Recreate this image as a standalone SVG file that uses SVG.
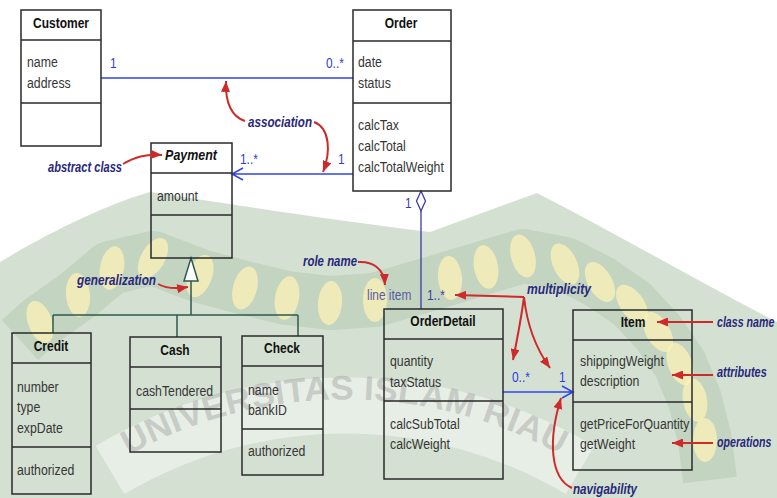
<svg xmlns="http://www.w3.org/2000/svg" width="777" height="498" viewBox="0 0 777 498">
  <style>
    text { font-family: "Liberation Sans", Arial, sans-serif; }
    .cls { font-size: 15px; font-weight: bold; fill: #111; text-anchor: middle; }
    .abs { font-style: italic; }
    .att { font-size: 15px; fill: #363636; }
    .mul { font-size: 14px; fill: #2a3ce4; }
    .mul2 { font-size: 14px; fill: #3a3aa6; }
    .role { font-size: 14px; fill: #5a5aa2; }
    .note { font-size: 14px; font-style: italic; font-weight: bold; fill: #28287a; }
    .box rect, .box path { fill: none; stroke: #2a2a2a; stroke-width: 1.5; }
    .assoc { fill: none; stroke: #2f45e8; stroke-width: 1.5; }
    .agg { fill: none; stroke: #3a3aa6; stroke-width: 1.3; }
    .gen { fill: none; stroke: #2c5a4c; stroke-width: 1.5; }
    .call { fill: none; stroke: #cf2a2a; stroke-width: 2; marker-end: url(#redhead); }
    .petal { fill: #fcf2b6; fill-opacity: 0.75; }
    .wm { font-size: 34px; font-weight: bold; fill: #959595; fill-opacity: 0.4; }
  </style>
  <defs>
    <marker id="redhead" markerUnits="userSpaceOnUse" markerWidth="11" markerHeight="9" refX="11" refY="4.5" orient="auto">
      <path d="M0,0 L11,4.5 L0,9 Z" fill="#cf2a2a"/>
    </marker>
    <path id="wmArc" d="M120,460 A448,448 0 0 1 570,460"/>
  </defs>

  <rect width="777" height="498" fill="#ffffff"/>

  <!-- university crest in the background -->
  <g id="watermark">
    <path d="M0,262 C50,232 105,205 150,192 C230,204 330,220 430,232 L537,193 C620,236 700,282 777,322 L777,498 L0,498 Z" fill="#6f9a6a" fill-opacity="0.3"/>
    <path d="M20,340 L40,322 L78,295 L110,268 L153,258 L200,276 L245,288 L287,298 L330,303 L375,300 L450,278 L523,256 L565,264 L600,282 L632,304 L658,332 L680,364 L695,400 L705,440 L710,480" fill="none" stroke="#5f8a5a" stroke-opacity="0.14" stroke-width="54" stroke-linejoin="round"/>
    <g class="petal">
      <ellipse rx="12" ry="22" transform="translate(40 322) rotate(-20)"/>
      <ellipse rx="12" ry="22" transform="translate(78 295) rotate(-5)"/>
      <ellipse rx="12" ry="22" transform="translate(112 268) rotate(10)"/>
      <ellipse rx="12" ry="22" transform="translate(153 258) rotate(30)"/>
      <ellipse rx="12" ry="22" transform="translate(200 276) rotate(20)"/>
      <ellipse rx="12" ry="22" transform="translate(245 288) rotate(15)"/>
      <ellipse rx="12" ry="22" transform="translate(287 298) rotate(10)"/>
      <ellipse rx="12" ry="22" transform="translate(330 303) rotate(5)"/>
      <ellipse rx="12" ry="22" transform="translate(375 300) rotate(0)"/>
      <ellipse rx="12" ry="22" transform="translate(450 278) rotate(-5)"/>
      <ellipse rx="12" ry="22" transform="translate(486 267) rotate(-10)"/>
      <ellipse rx="12" ry="22" transform="translate(523 256) rotate(-15)"/>
      <ellipse rx="12" ry="22" transform="translate(565 264) rotate(-25)"/>
      <ellipse rx="12" ry="22" transform="translate(600 282) rotate(-30)"/>
      <ellipse rx="12" ry="22" transform="translate(632 304) rotate(-35)"/>
      <ellipse rx="12" ry="22" transform="translate(658 332) rotate(-30)"/>
      <ellipse rx="12" ry="22" transform="translate(680 364) rotate(-20)"/>
      <ellipse rx="12" ry="22" transform="translate(695 400) rotate(-10)"/>
      <ellipse rx="12" ry="22" transform="translate(705 440) rotate(0)"/>
    </g>
    <path d="M110,470 A460,460 0 0 1 580,470" fill="none" stroke="#ffffff" stroke-opacity="0.45" stroke-width="56"/>
    <text class="wm"><textPath href="#wmArc" startOffset="10" textLength="450" lengthAdjust="spacingAndGlyphs">UNIVERSITAS ISLAM RIAU</textPath></text>
  </g>

  <!-- relationships between the classes -->
  <g id="connectors">
    <path class="assoc" d="M101,78 H353"/>
    <path class="assoc" d="M353,174 H232 M243,168 L232,174 L243,180"/>
    <path class="agg" d="M421,211 V309"/>
    <polygon points="421,191 425.5,201 421,211 416.5,201" fill="#ffffff" stroke="#3a3aa6" stroke-width="1.3"/>
    <path class="gen" d="M191,281 V315 M53,315 H298 M53,315 V333 M177,315 V337 M298,315 V336"/>
    <polygon points="191,258 198,281 184,281" fill="#ffffff" stroke="#2c5a4c" stroke-width="1.5"/>
    <path class="assoc" d="M503,392 H573 M562,386 L573,392 L562,398"/>

    <text class="mul" transform="translate(110 68) scale(.85 1)">1</text>
    <text class="mul" transform="translate(326 68) scale(.85 1)">0..*</text>
    <text class="mul" transform="translate(240 164) scale(.85 1)">1..*</text>
    <text class="mul" transform="translate(338 164) scale(.85 1)">1</text>
    <text class="mul2" transform="translate(405 208) scale(.85 1)">1</text>
    <text class="role" transform="translate(367 300) scale(.85 1)">line item</text>
    <text class="mul2" transform="translate(427 300) scale(.85 1)">1..*</text>
    <text class="mul" transform="translate(512 382) scale(.85 1)">0..*</text>
    <text class="mul" transform="translate(559 382) scale(.85 1)">1</text>
  </g>

  <g id="customer" class="box">
    <rect x="21" y="10" width="80" height="136"/>
    <path d="M21,40 H101 M21,103 H101"/>
    <text class="cls" transform="translate(61 28) scale(.8 1)">Customer</text>
    <text class="att" transform="translate(27 67) scale(.82 1)">name</text>
    <text class="att" transform="translate(27 88) scale(.82 1)">address</text>
  </g>

  <g id="order" class="box">
    <rect x="353" y="10" width="98" height="181"/>
    <path d="M353,41 H451 M353,103 H451"/>
    <text class="cls" transform="translate(401 28) scale(.8 1)">Order</text>
    <text class="att" transform="translate(358 67) scale(.82 1)">date</text>
    <text class="att" transform="translate(358 88) scale(.82 1)">status</text>
    <text class="att" transform="translate(358 130) scale(.82 1)">calcTax</text>
    <text class="att" transform="translate(358 151) scale(.82 1)">calcTotal</text>
    <text class="att" transform="translate(358 172) scale(.82 1)">calcTotalWeight</text>
  </g>

  <g id="payment" class="box">
    <rect x="151" y="143" width="81" height="115"/>
    <path d="M151,173 H232 M151,215 H232"/>
    <text class="cls abs" transform="translate(191 160) scale(.83 1)">Payment</text>
    <text class="att" transform="translate(157 201) scale(.82 1)">amount</text>
  </g>

  <g id="credit" class="box">
    <rect x="12" y="333" width="79" height="161"/>
    <path d="M12,363 H91 M12,447 H91"/>
    <text class="cls" transform="translate(51 351) scale(.8 1)">Credit</text>
    <text class="att" transform="translate(17 392) scale(.82 1)">number</text>
    <text class="att" transform="translate(17 412) scale(.82 1)">type</text>
    <text class="att" transform="translate(17 433) scale(.82 1)">expDate</text>
    <text class="att" transform="translate(17 475) scale(.82 1)">authorized</text>
  </g>

  <g id="cash" class="box">
    <rect x="130" y="337" width="91" height="115"/>
    <path d="M130,367 H221 M130,409 H221"/>
    <text class="cls" transform="translate(175 355) scale(.8 1)">Cash</text>
    <text class="att" transform="translate(136 396) scale(.82 1)">cashTendered</text>
  </g>

  <g id="check" class="box">
    <rect x="242" y="336" width="81" height="139"/>
    <path d="M242,366 H323 M242,429 H323"/>
    <text class="cls" transform="translate(282 353) scale(.8 1)">Check</text>
    <text class="att" transform="translate(248 395) scale(.82 1)">name</text>
    <text class="att" transform="translate(248 415) scale(.82 1)">bankID</text>
    <text class="att" transform="translate(248 456) scale(.82 1)">authorized</text>
  </g>

  <g id="orderdetail" class="box">
    <rect x="384" y="309" width="119" height="170"/>
    <path d="M384,339 H503 M384,401 H503"/>
    <text class="cls" transform="translate(443 326) scale(.8 1)">OrderDetail</text>
    <text class="att" transform="translate(390 366) scale(.82 1)">quantity</text>
    <text class="att" transform="translate(390 387) scale(.82 1)">taxStatus</text>
    <text class="att" transform="translate(390 429) scale(.82 1)">calcSubTotal</text>
    <text class="att" transform="translate(390 449) scale(.82 1)">calcWeight</text>
  </g>

  <g id="item" class="box">
    <rect x="573" y="310" width="119" height="160"/>
    <path d="M573,340 H692 M573,402 H692"/>
    <text class="cls" transform="translate(633 327) scale(.8 1)">Item</text>
    <text class="att" transform="translate(580 366) scale(.82 1)">shippingWeight</text>
    <text class="att" transform="translate(580 386) scale(.82 1)">description</text>
    <text class="att" transform="translate(580 429) scale(.82 1)">getPriceForQuantity</text>
    <text class="att" transform="translate(580 449) scale(.82 1)">getWeight</text>
  </g>

  <!-- explanatory callouts -->
  <g id="callouts">
    <path class="call" d="M245,121 C232,117 225,103 226,81"/>
    <path class="call" d="M314,122 C330,128 331,152 323,172"/>
    <path class="call" d="M123,164 C135,157 145,154 162,155"/>
    <path class="call" d="M158,284 C167,289 176,289 188,287"/>
    <path class="call" d="M358,262 C372,261 384,268 385,285"/>
    <path class="call" d="M524,297 L455,295"/>
    <path class="call" d="M524,297 C521,320 517,340 513,360"/>
    <path class="call" d="M524,297 C527,325 537,350 550,368"/>
    <path class="call" d="M713,322 L657,322"/>
    <path class="call" d="M713,375 L672,375"/>
    <path class="call" d="M713,443 L672,443"/>
    <path class="call" d="M572,488 C550,478 548,440 561,398"/>

    <text class="note" x="248" y="127" textLength="64" lengthAdjust="spacingAndGlyphs">association</text>
    <text class="note" x="48" y="172" textLength="74" lengthAdjust="spacingAndGlyphs">abstract class</text>
    <text class="note" x="77" y="285" textLength="79" lengthAdjust="spacingAndGlyphs">generalization</text>
    <text class="note" x="303" y="266" textLength="54" lengthAdjust="spacingAndGlyphs">role name</text>
    <text class="note" x="527" y="294" textLength="64" lengthAdjust="spacingAndGlyphs">multiplicity</text>
    <text class="note" transform="translate(717 327) scale(.76 1)">class name</text>
    <text class="note" transform="translate(717 377) scale(.78 1)">attributes</text>
    <text class="note" transform="translate(717 447) scale(.76 1)">operations</text>
    <text class="note" x="573" y="494" textLength="64" lengthAdjust="spacingAndGlyphs">navigability</text>
  </g>
</svg>
